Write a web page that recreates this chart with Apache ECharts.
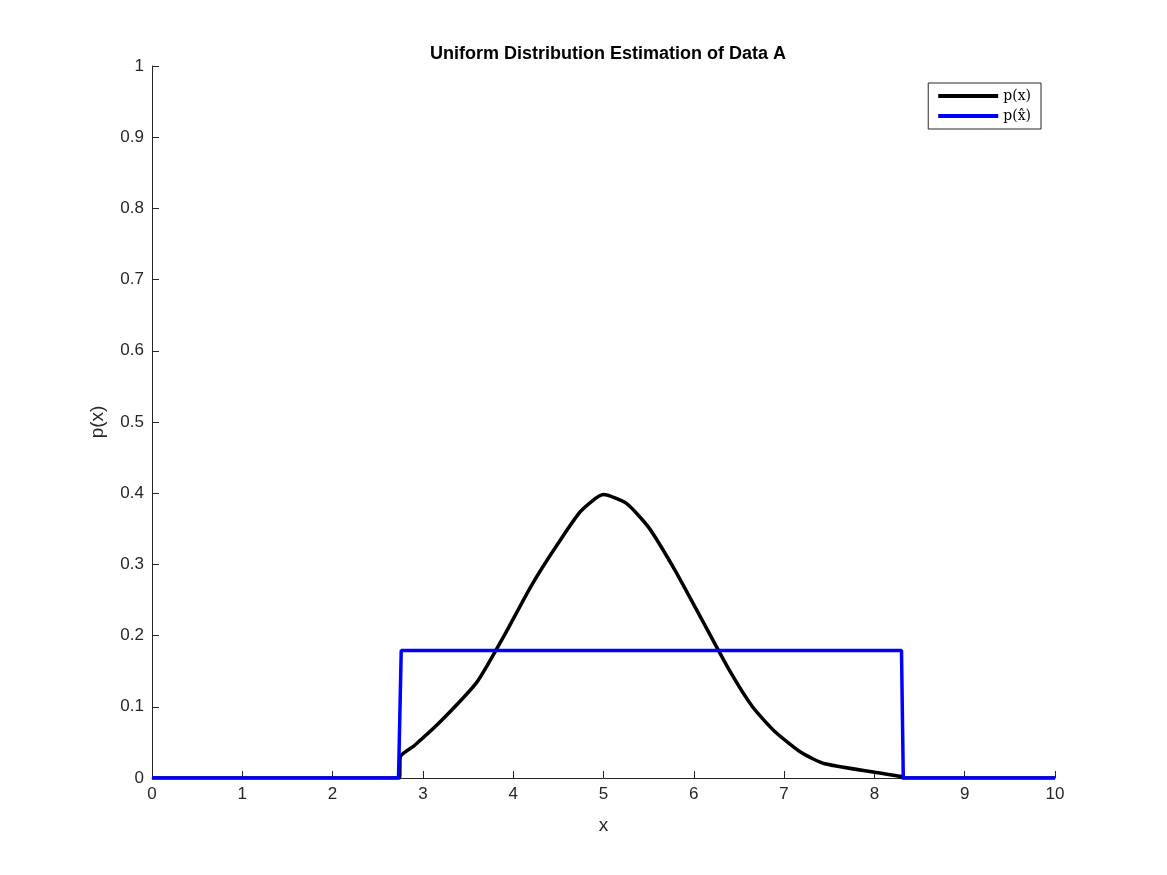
<!DOCTYPE html>
<html><head><meta charset="utf-8">
<script src="https://cdn.jsdelivr.net/npm/echarts@6/dist/echarts.min.js"></script>
<style>html,body{margin:0;background:#fff}#c{width:1167px;height:875px}</style>
</head><body><div id="c"></div>
<script>
const pxData = [[0,0],[2.74,0],[2.75,0.03],[2.9,0.045],[3.2,0.08],[3.6,0.135],[3.9,0.2],[4.2,0.27],[4.5,0.33],[4.75,0.375],[5.0,0.398],[5.25,0.386],[5.5,0.352],[5.8,0.29],[6.1,0.22],[6.4,0.15],[6.65,0.10],[6.9,0.065],[7.2,0.035],[7.45,0.02],[8.3,0.002],[8.31,0],[10,0]];
const phatData = [[0,0],[2.73,0],[2.76,0.179],[8.3,0.179],[8.32,0],[10,0]];
const chart = echarts.init(document.getElementById('c'));
const axisCommon = {axisLine:{show:true,lineStyle:{color:'#262626'}},axisTick:{inside:true,length:7,lineStyle:{color:'#262626'}},axisLabel:{color:'#262626',fontSize:17,fontFamily:'Helvetica, Arial, Liberation Sans'},splitLine:{show:false},nameTextStyle:{color:'#262626',fontSize:19,fontFamily:'Liberation Sans'}};
chart.setOption({
  animation:false,
  title:{text:'Uniform Distribution Estimation of Data A',left:603,textAlign:'center',top:40,textStyle:{fontSize:18,fontWeight:'bold',color:'#000',fontFamily:'Liberation Sans'}},
  grid:{left:152,right:112,top:66,bottom:97},
  legend:{orient:'vertical',right:126,top:83,backgroundColor:'#fff',borderColor:'#262626',borderWidth:1,borderRadius:0,padding:[6,10,6,10],itemWidth:60,itemHeight:4,itemGap:6,icon:'rect',textStyle:{fontFamily:'DejaVu Serif, Liberation Serif',fontSize:14,color:'#000'},data:['p(x)','p(x̂)']},
  xAxis:Object.assign({type:'value',min:0,max:10,interval:1,name:'x',nameLocation:'middle',nameGap:38},axisCommon),
  yAxis:Object.assign({type:'value',min:0,max:1,interval:0.1,name:'p(x)',nameLocation:'middle',nameGap:45},axisCommon),
  series:[
    {name:'p(x)',type:'line',data:pxData,showSymbol:false,lineStyle:{color:'#000',width:3.5},itemStyle:{color:'#000'},smooth:0.2},
    {name:'p(x̂)',type:'line',data:phatData,showSymbol:false,lineStyle:{color:'#0000ff',width:3.5},itemStyle:{color:'#0000ff'}}
  ]
});
</script></body></html>
